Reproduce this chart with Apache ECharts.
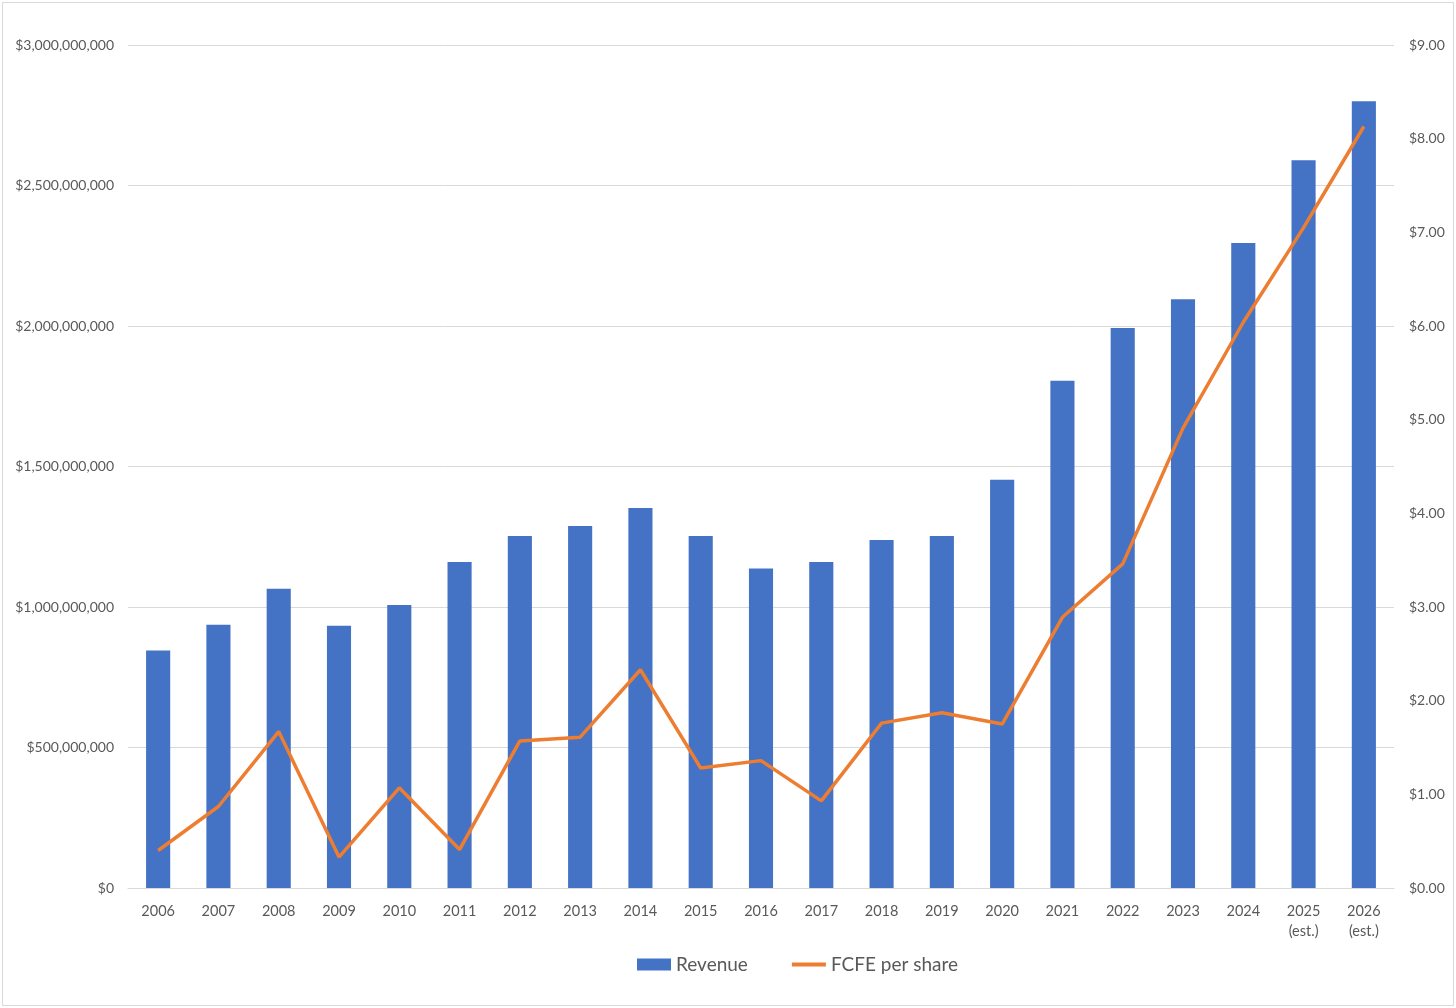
<!DOCTYPE html>
<html><head><meta charset="utf-8">
<script src="https://cdn.jsdelivr.net/npm/echarts@6/dist/echarts.min.js"></script>
<style>
html,body{margin:0;padding:0;background:#fff;}
#c{position:absolute;left:2px;top:2px;width:1452px;height:1004px;border:1px solid #d9d9d9;box-sizing:border-box;}
</style></head>
<body><div id="c"></div>
<script>
const categories = ['2006','2007','2008','2009','2010','2011','2012','2013','2014','2015','2016','2017','2018','2019','2020','2021','2022','2023','2024','2025\n(est.)','2026\n(est.)'];
const revenue = [845e6, 937e6, 1065e6, 933e6, 1007e6, 1160e6, 1253e6, 1288e6, 1352e6, 1253e6, 1137e6, 1160e6, 1238e6, 1253e6, 1453e6, 1805e6, 1993e6, 2095e6, 2295e6, 2590e6, 2800e6];
const fcfe = [0.40, 0.87, 1.67, 0.33, 1.07, 0.41, 1.57, 1.61, 2.33, 1.28, 1.36, 0.93, 1.76, 1.87, 1.75, 2.89, 3.46, 4.91, 6.04, 7.05, 8.13];
const leftTicks = {min: 0, max: 3e9, interval: 5e8};
const rightTicks = {min: 0, max: 9, interval: 1};

const chart = echarts.init(document.getElementById('c'));
const font = 'Lato, "Liberation Sans", sans-serif';
chart.setOption({
  animation: false,
  textStyle: {fontFamily: font},
  grid: {left: 125, right: 59, top: 42, bottom: 117},
  legend: {
    left: 629, top: 947,
    itemGap: 42, itemWidth: 34, itemHeight: 12,
    textStyle: {fontSize: 19, color: '#595959', fontFamily: font},
    data: [{name: 'Revenue', icon: 'rect'},
           {name: 'FCFE per share', itemStyle: {opacity: 0}, lineStyle: {width: 4, color: '#ED7D31'}}]
  },
  xAxis: {
    type: 'category', data: categories,
    axisLine: {lineStyle: {color: '#d9d9d9'}},
    axisTick: {show: false},
    axisLabel: {color: '#595959', fontSize: 14.5, margin: 13, lineHeight: 20, interval: 0}
  },
  yAxis: [{
    type: 'value', ...leftTicks,
    axisLabel: {color: '#595959', fontSize: 14, margin: 14,
      formatter: v => '$' + v.toLocaleString('en-US')},
    splitLine: {lineStyle: {color: '#d9d9d9', width: 1}},
    axisLine: {show: false}, axisTick: {show: false}
  }, {
    type: 'value', ...rightTicks,
    axisLabel: {color: '#595959', fontSize: 14, margin: 15,
      formatter: v => '$' + v.toFixed(2)},
    splitLine: {show: false},
    axisLine: {show: false}, axisTick: {show: false}
  }],
  series: [{
    name: 'Revenue', type: 'bar', data: revenue, yAxisIndex: 0,
    barWidth: '40%', itemStyle: {color: '#4472C4'}
  }, {
    name: 'FCFE per share', type: 'line', data: fcfe, yAxisIndex: 1,
    symbol: 'none', lineStyle: {color: '#ED7D31', width: 3.5},
    itemStyle: {color: '#ED7D31'}
  }]
});
</script></body></html>
